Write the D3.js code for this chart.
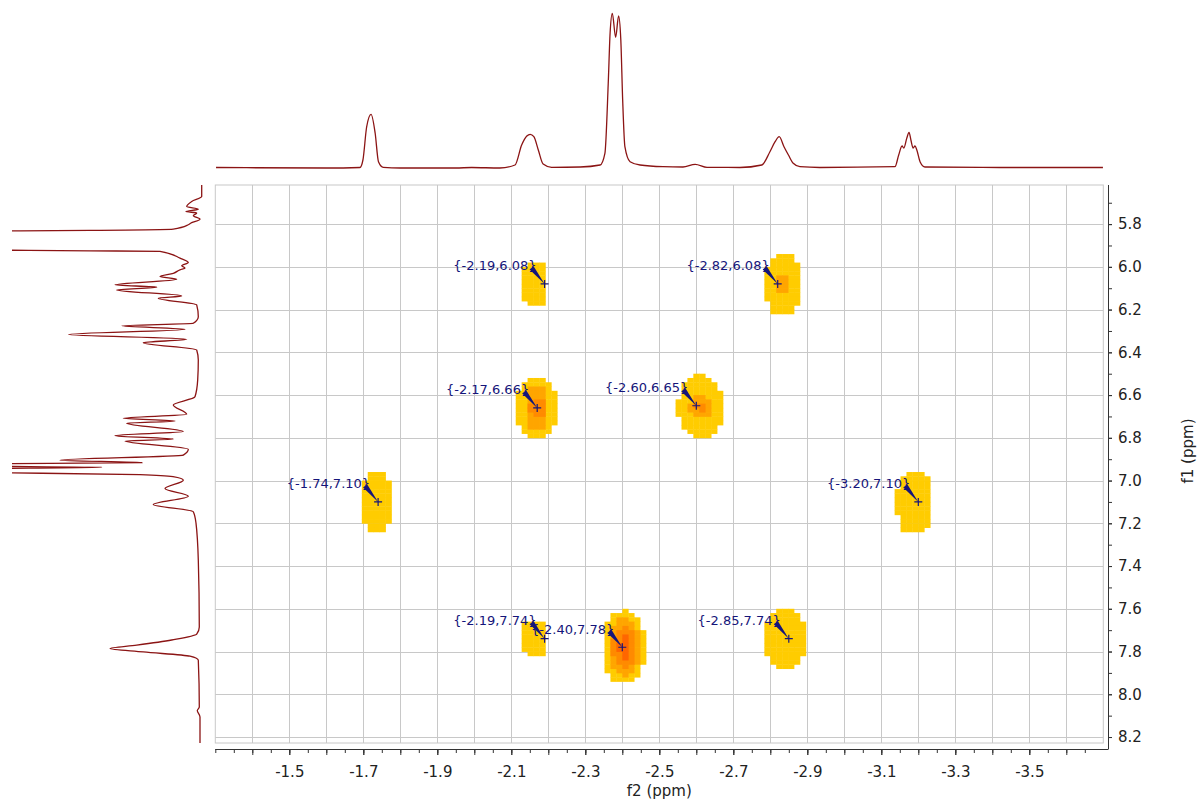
<!DOCTYPE html>
<html>
<head>
<meta charset="utf-8">
<script src="https://cdn.jsdelivr.net/npm/d3@7"></script>
<style>
  body { margin: 0; background: #fff; }
  svg { display: block; font-family: "DejaVu Sans", Verdana, sans-serif; }
</style>
</head>
<body>
<svg id="chart" width="1201" height="803"></svg>
<script>
// tick labels
var f2Ticks = [-1.5, -1.7, -1.9, -2.1, -2.3, -2.5, -2.7, -2.9, -3.1, -3.3, -3.5];
var f1Ticks = [5.8, 6.0, 6.2, 6.4, 6.6, 6.8, 7.0, 7.2, 7.4, 7.6, 7.8, 8.0, 8.2];

// picked cross peaks (label positions)
var peakF2 = [-2.19, -2.82, -2.17, -2.60, -1.74, -3.20, -2.19, -2.40, -2.85];
var peakF1 = [6.08, 6.08, 6.66, 6.65, 7.10, 7.10, 7.74, 7.78, 7.74];

// contour blobs: centre and half widths (ppm) per contour level
var blobF2 = [-2.165, -2.834, -2.169, -2.612, -1.736, -3.191, -2.164, -2.405, -2.840];
var blobF1 = [6.080, 6.082, 6.660, 6.653, 7.103, 7.105, 7.735, 7.778, 7.743];
var blobLevels = [
    [[0.031, 0.103]],
    [[0.046, 0.148], [0.019, 0.036]],
    [[0.054, 0.150], [0.031, 0.105], [0.018, 0.050]],
    [[0.062, 0.148], [0.030, 0.055], [0.014, 0.024]],
    [[0.036, 0.143]],
    [[0.049, 0.145]],
    [[0.032, 0.082]],
    [[0.057, 0.171], [0.043, 0.133], [0.031, 0.094], [0.014, 0.066]],
    [[0.054, 0.136]]
];
var blobShape = [6, 2.4, 2.2, 2, 3, 2.6, 6, 2.2, 2.6];
var levelColors = ["#ffcc00", "#ffa500", "#ff8a00", "#ff6600"];

// f2 projection (top trace)
var topPpm = [-1.302, -1.600, -1.691, -1.699, -1.709, -1.721, -1.732, -1.741, -1.754, -1.800, -1.950, -1.993,
    -2.069, -2.110, -2.128, -2.142, -2.151, -2.161, -2.173, -2.186, -2.209, -2.286, -2.340, -2.353, -2.362,
    -2.367, -2.373, -2.382, -2.390, -2.396, -2.401, -2.407, -2.421, -2.448, -2.510, -2.564, -2.597, -2.629,
    -2.718, -2.777, -2.799, -2.813, -2.824, -2.837, -2.849, -2.862, -2.880, -2.934, -3.137, -3.147, -3.156,
    -3.161, -3.169, -3.175, -3.180, -3.186, -3.191, -3.196, -3.205, -3.218, -3.421, -3.699];
var topInt = [0.5, 0, 0.5, 8, 41, 53.7, 35, 6.3, 0.7, 0, 0, 0.5,
    0, 3, 23, 32, 33.7, 31.3, 18, 4, 0.7, 1, 3, 14.7, 84.7,
    134.7, 154.7, 130.7, 152, 128, 68, 21.3, 6.3, 3, 1.3, 1, 3.7, 0.7,
    0.5, 3, 16.3, 26.3, 31.3, 21.3, 13, 4.7, 1.3, 0.5, 1.3, 13, 22,
    20, 30, 35.7, 28, 20, 22, 18, 6, 1, 0.5, 0.5];

// f1 projection (left trace)
var leftPpm = [5.616, 5.671, 5.694, 5.718, 5.730, 5.741, 5.748, 5.761, 5.777, 5.793, 5.803, 5.823, 5.829,
    5.834, 5.876, 5.920, 5.925, 5.928, 5.959, 5.980, 5.995, 6.006, 6.014, 6.030, 6.045, 6.058, 6.084, 6.095,
    6.108, 6.136, 6.147, 6.178, 6.233, 6.264, 6.276, 6.292, 6.317, 6.339, 6.355, 6.389, 6.436, 6.529, 6.608,
    6.646, 6.690, 6.709, 6.721, 6.732, 6.771, 6.790, 6.806, 6.815, 6.854, 6.881, 6.905, 6.916, 6.922, 6.927,
    6.932, 6.938, 6.944, 6.953, 6.962, 6.972, 6.982, 6.998, 7.037, 7.073, 7.112, 7.146, 7.199, 7.372, 7.685,
    7.719, 7.746, 7.770, 7.786, 7.802, 7.822, 7.841, 8.060, 8.076, 8.106, 8.229];
var leftInt = [-1.7, -1.7, 8.3, 13.3, 1.7, 14, 3.3, 6.7, 0, 8.3, 11.7, 26.7, 110,
    250, 700, 250, 110, 40, 20, 11.7, 18.3, 15, 20, 26.7, 40, 23.3, 85, 43.3,
    83.3, 18.3, 41.7, 3.3, 1.7, 6.7, 78.3, 15, 131.7, 13.3, 56.7, 3.3, 1.7, 2.3, 5,
    26.7, 13.3, 76.7, 25, 73.3, 16.7, 85, 26.7, 75, 11.7, 16.7, 140, 58, 230, 300,
    230, 98, 230, 350, 230, 60, 27, 16.7, 35, 11.7, 46.7, 6.7, 4, 1.7, 0.7,
    3.3, 28.3, 63.3, 90, 56.7, 10, 1.7, 0.7, 2.7, 0, 0];

var plot = { left: 215.3, right: 1103.3, top: 185, bottom: 743 };
var gridColor = "#c8c8c8";
var traceColor = "#8b1414";
var navy = "#15157a";

var svg = d3.select("#chart");

var x = d3.scaleLinear().domain([-1.3, -3.7]).range([plot.left, plot.right]);
var y = d3.scaleLinear().domain([5.617, 8.228]).range([plot.top, plot.bottom]);
var topY = d3.scaleLinear().domain([0, 156]).range([168, 12]);
var leftX = d3.scaleLinear().domain([0, 188]).range([200, 12]);

// grid
var gridV = d3.range(14, 37).map(function(k) { return -k / 10; });
var gridH = d3.range(29, 42).map(function(k) { return k / 5; });

svg.append("g").selectAll("line").data(gridV).enter().append("line")
    .attr("x1", function(d) { return Math.round(x(d)) + 0.5; })
    .attr("x2", function(d) { return Math.round(x(d)) + 0.5; })
    .attr("y1", plot.top).attr("y2", plot.bottom)
    .attr("stroke", gridColor);
svg.append("g").selectAll("line").data(gridH).enter().append("line")
    .attr("y1", function(d) { return Math.round(y(d)) + 0.5; })
    .attr("y2", function(d) { return Math.round(y(d)) + 0.5; })
    .attr("x1", plot.left).attr("x2", plot.right)
    .attr("stroke", gridColor);

// contour blobs, drawn as blocky cells like the original raster
var cw = 0.016, ch = 0.02;
var blobs = svg.append("g");
blobF2.forEach(function(cx, i) {
    var cy = blobF1[i], p = blobShape[i];
    blobLevels[i].forEach(function(lv, li) {
        var rx = lv[0], ry = lv[1];
        var cells = [];
        var i0 = Math.floor((cx - rx) / cw) - 1, i1 = Math.ceil((cx + rx) / cw) + 1;
        var j0 = Math.floor((cy - ry) / ch) - 1, j1 = Math.ceil((cy + ry) / ch) + 1;
        for (var a = i0; a <= i1; a++) {
            for (var b = j0; b <= j1; b++) {
                var px = (a + 0.5) * cw, py = (b + 0.5) * ch;
                var r = Math.pow(Math.abs(px - cx) / rx, p) + Math.pow(Math.abs(py - cy) / ry, p);
                if (r <= 1) cells.push([a * cw, b * ch]);
            }
        }
        blobs.append("g").selectAll("rect").data(cells).enter().append("rect")
            .attr("x", function(d) { return Math.min(x(d[0]), x(d[0] + cw)); })
            .attr("y", function(d) { return y(d[1]); })
            .attr("width", function(d) { return Math.abs(x(d[0] + cw) - x(d[0])) + 0.4; })
            .attr("height", function(d) { return y(d[1] + ch) - y(d[1]) + 0.4; })
            .attr("fill", levelColors[li]);
    });
});

// frame
svg.append("rect")
    .attr("x", plot.left).attr("y", plot.top)
    .attr("width", plot.right - plot.left).attr("height", plot.bottom - plot.top)
    .attr("fill", "none").attr("stroke", gridColor);

// peak labels with leader wedge and cross
var marks = svg.append("g");
peakF2.forEach(function(f2, i) {
    var px = x(f2), py = y(peakF1[i]);
    var sx = px - 13, sy = py - 16;
    var len = Math.sqrt(13 * 13 + 16 * 16);
    var nx = -16 / len * 2.6, ny = 13 / len * 2.6;
    marks.append("path")
        .attr("d", "M" + (sx + nx) + "," + (sy + ny) + "L" + (sx - nx) + "," + (sy - ny) + "L" + px + "," + py + "Z")
        .attr("fill", navy);
    marks.append("path")
        .attr("d", "M" + (px - 4) + "," + py + "H" + (px + 4) + "M" + px + "," + (py - 4) + "V" + (py + 4))
        .attr("stroke", navy).attr("stroke-width", 1.2);
    marks.append("text")
        .attr("x", px - 8).attr("y", py - 18)
        .attr("dy", "0.35em")
        .attr("text-anchor", "end")
        .attr("font-size", "13px")
        .attr("fill", navy)
        .text("{" + f2.toFixed(2) + "," + peakF1[i].toFixed(2) + "}");
});

// bottom axis
var axisColor = "#333";
var xAxisY = 749;
var gx = svg.append("g").attr("transform", "translate(0," + xAxisY + ")");
var minorX = d3.range(26, 75).map(function(k) { return -k / 20; }).filter(function(v) { return v > -3.7; });
gx.append("g").call(d3.axisBottom(x).tickValues(minorX).tickSize(4).tickFormat(""));
gx.append("g").call(d3.axisBottom(x).tickValues(gridV).tickSize(6).tickFormat(""));
gx.append("g").call(d3.axisBottom(x).tickValues(f2Ticks).tickSize(6).tickPadding(11)
    .tickFormat(function(d) { return d.toFixed(1); }));
gx.selectAll(".domain").remove();
gx.selectAll("line").attr("stroke", axisColor);
gx.selectAll("text").attr("font-size", "15px").attr("fill", "#222").attr("font-family", "DejaVu Sans, sans-serif");
gx.append("line").attr("x1", plot.left).attr("x2", 1108.5).attr("y1", 0.5).attr("y2", 0.5).attr("stroke", axisColor);

svg.append("text")
    .attr("x", (plot.left + plot.right) / 2).attr("y", 796)
    .attr("text-anchor", "middle").attr("font-size", "15px").attr("fill", "#222")
    .text("f2 (ppm)");

// right axis
var yAxisX = 1108;
var gy = svg.append("g").attr("transform", "translate(" + yAxisX + ",0)");
var minorY = d3.range(57, 83).map(function(k) { return k / 10; });
gy.append("g").call(d3.axisRight(y).tickValues(minorY).tickSize(4).tickFormat(""));
gy.append("g").call(d3.axisRight(y).tickValues(f1Ticks).tickSize(4).tickPadding(6)
    .tickFormat(function(d) { return d.toFixed(1); }));
gy.selectAll(".domain").remove();
gy.selectAll("line").attr("stroke", axisColor);
gy.selectAll("text").attr("font-size", "15px").attr("fill", "#222").attr("font-family", "DejaVu Sans, sans-serif");
gy.append("line").attr("x1", 0.5).attr("x2", 0.5).attr("y1", plot.top).attr("y2", xAxisY).attr("stroke", axisColor);

svg.append("text")
    .attr("transform", "translate(1188,451) rotate(-90)")
    .attr("text-anchor", "middle").attr("dy", "0.35em")
    .attr("font-size", "15px").attr("fill", "#222")
    .text("f1 (ppm)");

// projections
var topData = topPpm.map(function(v, i) { return [v, topInt[i]]; });
svg.append("path")
    .datum(topData)
    .attr("fill", "none").attr("stroke", traceColor).attr("stroke-width", 1.3)
    .attr("d", d3.line()
        .x(function(d) { return x(d[0]); })
        .y(function(d) { return topY(d[1]); })
        .curve(d3.curveMonotoneX));

svg.append("clipPath").attr("id", "leftClip")
    .append("rect").attr("x", 12).attr("y", plot.top).attr("width", 200).attr("height", plot.bottom - plot.top);
var leftData = leftPpm.map(function(v, i) { return [v, leftInt[i]]; });
svg.append("path")
    .datum(leftData)
    .attr("clip-path", "url(#leftClip)")
    .attr("fill", "none").attr("stroke", traceColor).attr("stroke-width", 1.3)
    .attr("d", d3.line()
        .x(function(d) { return leftX(d[1]); })
        .y(function(d) { return y(d[0]); })
        .curve(d3.curveMonotoneY));
</script>
</body>
</html>
